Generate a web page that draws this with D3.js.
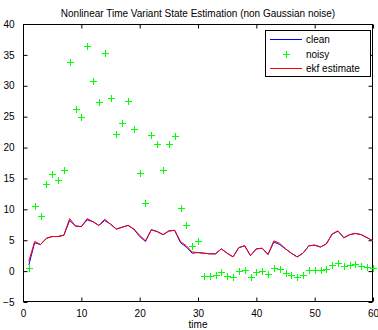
<!DOCTYPE html>
<html>
<head>
<meta charset="utf-8">
<script src="https://cdn.jsdelivr.net/npm/d3@7"></script>
<style>
  html, body { margin: 0; padding: 0; background: #fff; }
  svg text { font-family: "Liberation Sans", Arial, Helvetica, sans-serif; }
</style>
</head>
<body>
<svg id="chart" width="378" height="330"></svg>
<script>
const times = d3.range(1, 61);
const noisy = [0.5, 10.6, 9.0, 14.1, 15.8, 14.7, 16.4, 33.9, 26.2, 24.9,
  36.5, 30.8, 27.3, 35.3, 28.0, 22.2, 24.0, 27.5, 23.0, 15.9,
  11.1, 22.1, 20.5, 16.3, 20.5, 21.9, 10.2, 7.4, 4.0, 4.9,
  -0.8, -0.8, -0.7, -0.1, -0.8, -0.9, 0.0, 0.2, -0.9, -0.1,
  0.0, -0.5, 0.5, 0.3, -0.3, -0.6, -0.9, -0.6, 0.2, 0.2,
  0.2, 0.4, 1.0, 1.35, 0.75, 1.05, 1.15, 0.9, 0.65, 0.5];
const ekf = [1.6, 4.8, 4.3, 5.3, 5.6, 5.6, 5.8, 8.5, 7.3, 7.2,
  8.5, 8.0, 7.4, 8.4, 7.6, 6.8, 7.1, 7.4, 6.8, 5.8,
  4.9, 6.7, 6.4, 5.9, 6.5, 6.6, 4.8, 4.1, 3.1, 3.0,
  2.9, 2.8, 2.8, 3.6, 2.9, 2.3, 3.8, 4.1, 2.5, 3.6,
  3.7, 2.7, 4.9, 4.5, 3.6, 2.9, 2.3, 2.9, 4.1, 4.2,
  3.9, 4.4, 6.0, 6.5, 5.4, 5.9, 6.1, 5.9, 5.4, 4.9];
const clean = [1.0, 4.6, 4.3, 5.3, 5.6, 5.6, 5.8, 8.2, 7.3, 7.2,
  8.3, 8.0, 7.4, 8.2, 7.6, 6.8, 7.1, 7.4, 6.8, 5.6,
  4.8, 6.7, 6.4, 5.9, 6.5, 6.6, 4.6, 3.9, 2.9, 3.0,
  2.9, 2.8, 2.8, 3.6, 2.9, 2.3, 3.8, 4.1, 2.5, 3.6,
  3.7, 2.7, 4.7, 4.3, 3.6, 2.9, 2.3, 2.9, 4.1, 4.2,
  3.9, 4.4, 6.0, 6.5, 5.4, 5.9, 6.1, 5.9, 5.4, 4.9];
const xTicks = [0, 10, 20, 30, 40, 50, 60];
const yTicks = [-5, 0, 5, 10, 15, 20, 25, 30, 35, 40];
const seriesNames = ["clean", "noisy", "ekf estimate"];
const titleText = "Nonlinear Time Variant State Estimation (non Gaussian noise)";
const xLabel = "time";

const svg = d3.select("#chart");
const L = 23, R = 373, T = 24, B = 302;
const x = d3.scaleLinear().domain([0, 60]).range([L, R]);
const y = d3.scaleLinear().domain([-5, 40]).range([B, T]);

// box
svg.append("rect").attr("x", L + 0.5).attr("y", T + 0.5)
  .attr("width", R - L - 1).attr("height", B - T - 1)
  .attr("fill", "#fff").attr("stroke", "#000").attr("stroke-width", 1);

const tickLen = 4;
// x axis bottom (ticks inward) and top
const xb = svg.append("g").attr("transform", `translate(0,${B - 0.5})`)
  .call(d3.axisBottom(x).tickValues(xTicks).tickSizeInner(-tickLen).tickSizeOuter(0).tickPadding(8));
const xt = svg.append("g").attr("transform", `translate(0,${T + 0.5})`)
  .call(d3.axisTop(x).tickValues(xTicks).tickSizeInner(-tickLen).tickSizeOuter(0).tickFormat(""));
const yl = svg.append("g").attr("transform", `translate(${L + 0.5},0)`)
  .call(d3.axisLeft(y).tickValues(yTicks).tickSizeInner(-tickLen).tickSizeOuter(0).tickPadding(9));
const yr = svg.append("g").attr("transform", `translate(${R - 0.5},0)`)
  .call(d3.axisRight(y).tickValues(yTicks).tickSizeInner(-tickLen).tickSizeOuter(0).tickFormat(""));
[xb, xt, yl, yr].forEach(g => {
  g.select(".domain").remove();
  g.selectAll("line").attr("stroke", "#000");
  g.selectAll("text").attr("font-size", 10).attr("fill", "#000")
    .attr("font-family", "'Liberation Sans', Arial, Helvetica, sans-serif");
});

// lines
const line = d3.line().x((d, i) => x(times[i])).y(d => y(d));
svg.append("path").datum(clean).attr("d", line)
  .attr("fill", "none").attr("stroke", "#0000ff").attr("stroke-width", 1);
svg.append("path").datum(ekf).attr("d", line)
  .attr("fill", "none").attr("stroke", "#ff0000").attr("stroke-width", 1);

// noisy markers
const plus = (g, cx, cy, s) => {
  g.append("path").attr("d", `M${cx - s},${cy}H${cx + s}M${cx},${cy - s}V${cy + s}`)
    .attr("stroke", "#00ff00").attr("stroke-width", 1).attr("fill", "none");
};
const mg = svg.append("g");
noisy.forEach((v, i) => plus(mg, Math.round(x(times[i])) + 0.5, Math.round(y(v)) + 0.5, 3.5));

// title and x label
svg.append("text").attr("x", (L + R) / 2).attr("y", 17).attr("text-anchor", "middle")
  .attr("font-size", 10).attr("fill", "#000").text(titleText);
svg.append("text").attr("x", (L + R) / 2).attr("y", 328).attr("text-anchor", "middle")
  .attr("font-size", 10).attr("fill", "#000").text(xLabel);

// legend
const lg = svg.append("g");
lg.append("rect").attr("x", 265.5).attr("y", 30.5).attr("width", 105).attr("height", 46)
  .attr("fill", "#fff").attr("stroke", "#000").attr("stroke-width", 1);
const rowsY = [39, 54, 68];
lg.append("line").attr("x1", 270).attr("x2", 302).attr("y1", rowsY[0] + 0.5).attr("y2", rowsY[0] + 0.5)
  .attr("stroke", "#0000ff");
plus(lg, 286.5, rowsY[1] + 0.5, 3.5);
lg.append("line").attr("x1", 270).attr("x2", 302).attr("y1", rowsY[2] + 0.5).attr("y2", rowsY[2] + 0.5)
  .attr("stroke", "#ff0000");
seriesNames.forEach((n, i) => {
  lg.append("text").attr("x", 306).attr("y", rowsY[i] + 3.5).attr("font-size", 10)
    .attr("fill", "#000").text(n);
});
</script>
</body>
</html>
